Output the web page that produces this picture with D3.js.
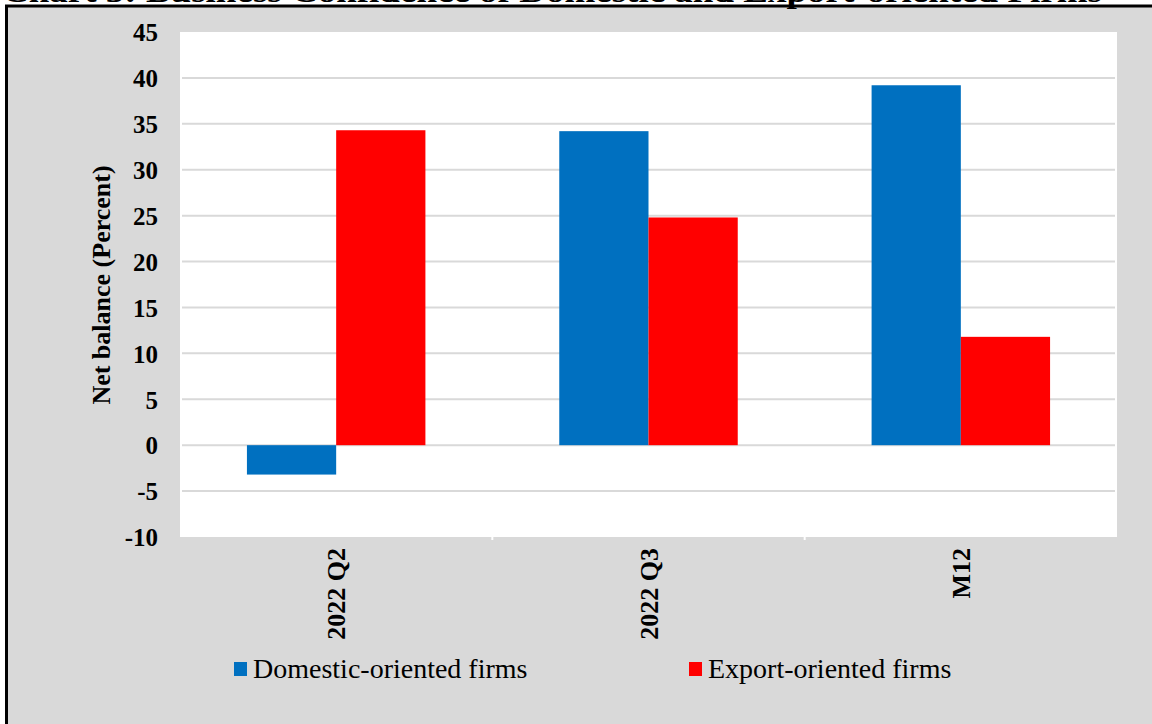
<!DOCTYPE html>
<html>
<head>
<meta charset="utf-8">
<script src="https://cdn.jsdelivr.net/npm/d3@7"></script>
<style>
html,body{margin:0;padding:0;background:#fff;}
svg{display:block;}
</style>
</head>
<body>
<svg id="chart" width="1152" height="724"></svg>
<script>
const categories = ["2022 Q2", "2022 Q3", "M12"];
const seriesNames = ["Domestic-oriented firms", "Export-oriented firms"];
const domestic = [-3.2, 34.2, 39.2];
const exportOriented = [34.3, 24.8, 11.8];
const yTicks = [-10, -5, 0, 5, 10, 15, 20, 25, 30, 35, 40, 45];
const colors = ["#0070c0", "#ff0000"];
const titleText = "Chart 3: Business Confidence of Domestic and Export-oriented Firms";
const yTitle = "Net balance (Percent)";

const svg = d3.select("#chart");
const W = 1152, H = 724;
const serif = "'Liberation Serif','Times New Roman','DejaVu Serif',Times,serif";

// outer grey frame
svg.append("rect").attr("x", 6.5).attr("y", 6).attr("width", W + 10).attr("height", H + 10)
  .attr("fill", "#d9d9d9").attr("stroke", "#000").attr("stroke-width", 3);

// cropped title (only its lower edge is visible, as in the reference)
svg.append("text").attr("x", 2).attr("y", 1.5)
  .attr("font-family", serif).attr("font-weight", "bold").attr("font-size", 32)
  .attr("textLength", 1100).attr("lengthAdjust", "spacingAndGlyphs")
  .text(titleText);

const plot = {left: 180, right: 1117, top: 32, bottom: 537};

svg.append("rect").attr("x", plot.left).attr("y", plot.top)
  .attr("width", plot.right - plot.left).attr("height", plot.bottom - plot.top)
  .attr("fill", "#fff");

const y = d3.scaleLinear().domain([-10, 45]).range([plot.bottom, plot.top]);
const x = d3.scaleBand().domain(categories).range([plot.left, plot.right]).paddingInner(0).paddingOuter(0);
const x1 = d3.scaleBand().domain(seriesNames).range([0, x.bandwidth()]).paddingInner(0).paddingOuter(0.75);

// gridlines
svg.append("g").selectAll("line").data(yTicks.filter(t => t > -10 && t < 45)).join("line")
  .attr("x1", plot.left + 2).attr("x2", plot.right - 2)
  .attr("y1", d => y(d)).attr("y2", d => y(d))
  .attr("stroke", "#d9d9d9").attr("stroke-width", 2);

// y axis labels
const yAxis = d3.axisLeft(y).tickValues(yTicks).tickSize(0).tickPadding(0).tickFormat(d => String(d));
const ya = svg.append("g").attr("transform", `translate(158,0)`).call(yAxis);
ya.select(".domain").remove();
ya.selectAll("text").attr("font-family", serif).attr("font-weight", "bold")
  .attr("font-size", 25).attr("fill", "#000").attr("dy", "0.35em");

// bars
const data = categories.map((c, i) => ({cat: c, vals: [domestic[i], exportOriented[i]]}));
const groups = svg.append("g").selectAll("g").data(data).join("g")
  .attr("transform", d => `translate(${x(d.cat)},0)`);
groups.selectAll("rect").data(d => d.vals.map((v, j) => ({name: seriesNames[j], v, j}))).join("rect")
  .attr("x", d => x1(d.name))
  .attr("width", x1.bandwidth())
  .attr("y", d => y(Math.max(0, d.v)))
  .attr("height", d => Math.abs(y(d.v) - y(0)))
  .attr("fill", d => colors[d.j]);

// x axis
const xAxis = d3.axisBottom(x).tickSize(0).tickPadding(0);
const xa = svg.append("g").attr("transform", `translate(0,${plot.bottom})`).call(xAxis);
xa.select(".domain").remove();
xa.selectAll("text")
  .attr("font-family", serif).attr("font-weight", "bold").attr("font-size", 26).attr("fill", "#000")
  .attr("transform", "translate(0,11) rotate(-90)")
  .attr("text-anchor", "end").attr("dy", "0.35em").attr("y", 0).attr("x", 0);

// small white category tick marks
svg.append("g").selectAll("line").data(categories.slice(1)).join("line")
  .attr("x1", d => x(d)).attr("x2", d => x(d))
  .attr("y1", plot.bottom - 4).attr("y2", plot.bottom + 3)
  .attr("stroke", "#fff").attr("stroke-width", 2);

// y title
svg.append("text")
  .attr("transform", `translate(101,285) rotate(-90)`)
  .attr("text-anchor", "middle").attr("dy", "0.35em")
  .attr("font-family", serif).attr("font-weight", "bold").attr("font-size", 26)
  .text(yTitle);

// legend
const legendX = [234, 689];
const lg = svg.append("g").selectAll("g").data(seriesNames).join("g")
  .attr("transform", (d, i) => `translate(${legendX[i]},0)`);
lg.append("rect").attr("x", 0).attr("y", 662).attr("width", 13).attr("height", 14)
  .attr("fill", (d, i) => colors[i]);
lg.append("text").attr("x", 19).attr("y", 678)
  .attr("font-family", serif).attr("font-size", 28).attr("fill", "#000")
  .text(d => d);
</script>
</body>
</html>
